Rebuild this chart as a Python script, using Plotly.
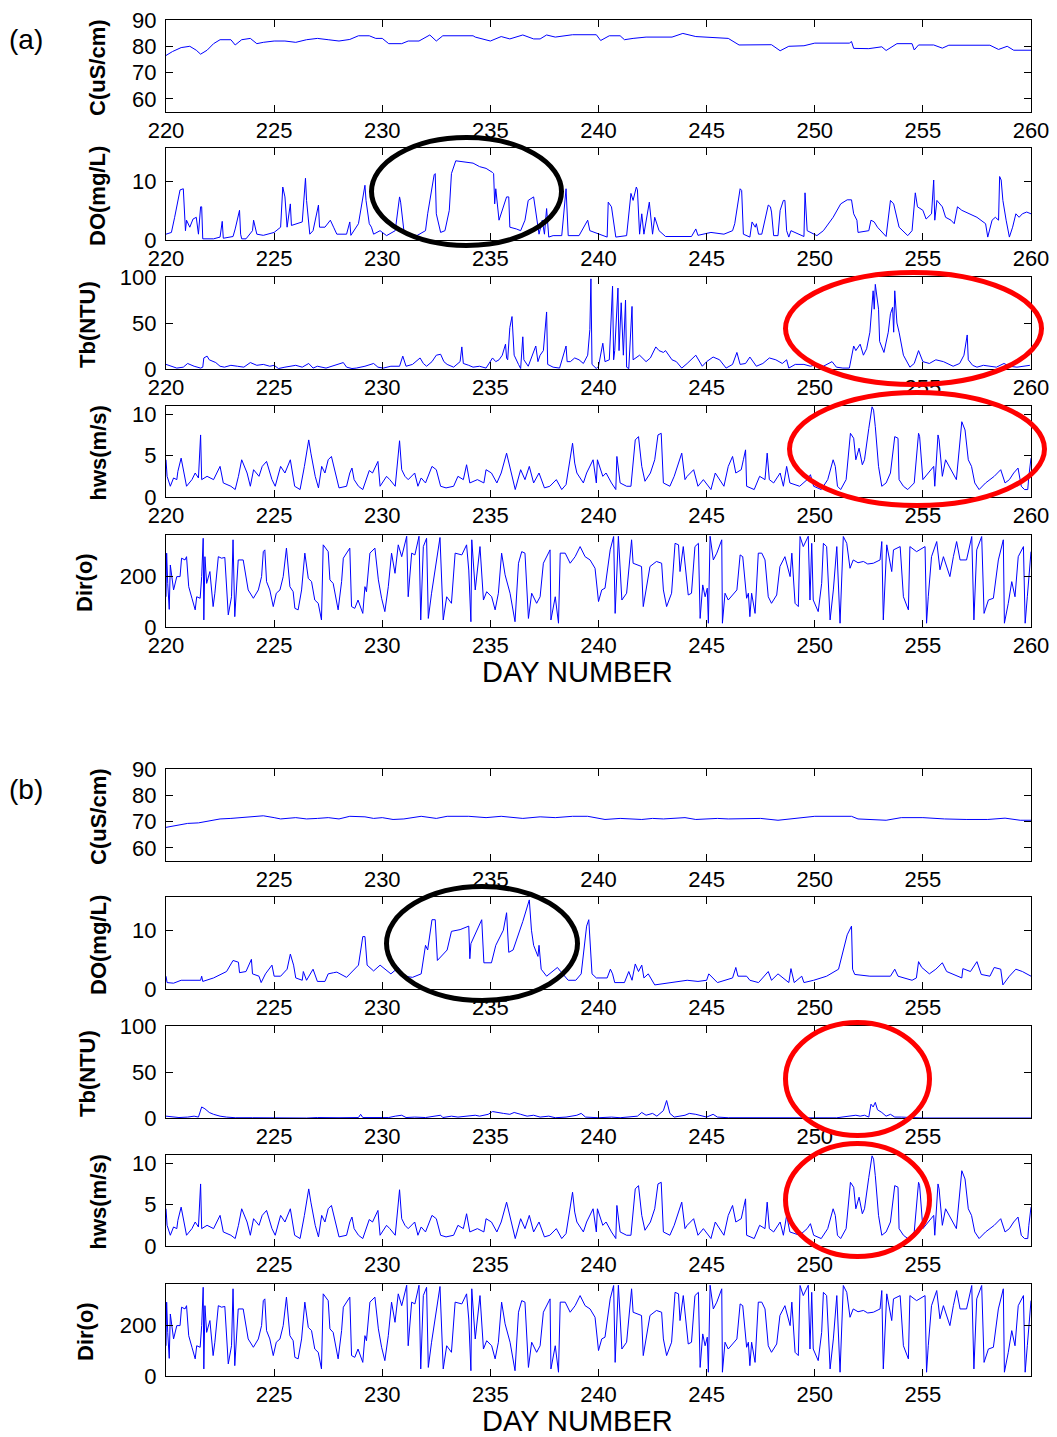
import plotly.graph_objects as go

# ---------------------------------------------------------------------------
# Data (day number, value)
# ---------------------------------------------------------------------------

# Conductivity, station (a)
c_a_day = [220.0, 220.3, 220.7, 221.1, 221.4, 221.6, 221.9, 222.2, 222.5, 223.0, 223.2, 223.5,
           223.9, 224.2, 224.5, 225.0, 225.5, 226.0, 226.5, 227.0, 227.5, 228.0, 228.5, 228.9,
           229.4, 229.7, 230.0, 230.3, 230.9, 231.2, 231.7, 232.2, 232.5, 232.8, 234.2, 234.3,
           235.0, 235.5, 235.9, 236.5, 237.0, 237.3, 237.6, 238.0, 238.8, 239.9, 240.1, 240.5,
           241.0, 241.2, 241.6, 242.2, 243.4, 243.9, 244.5, 245.3, 246.0, 246.5, 247.0, 248.0,
           248.4, 248.8, 249.5, 250.0, 251.6, 251.7, 251.8, 252.5, 253.1, 253.3, 253.8, 254.5,
           254.6, 254.8, 255.5, 255.9, 256.2, 258.1, 258.5, 258.9, 259.2, 260.0]
c_a_val = [76.5, 78.0, 79.5, 80.0, 78.5, 77.0, 78.5, 81.0, 82.5, 82.5, 80.5, 82.5,
           83.0, 81.0, 81.5, 82.0, 82.0, 81.5, 82.5, 83.0, 82.5, 82.0, 82.6, 84.0,
           84.0, 83.0, 83.0, 81.0, 81.0, 82.0, 82.0, 84.3, 82.0, 84.0, 84.0, 83.5,
           82.0, 83.7, 82.8, 84.3, 82.8, 82.8, 84.3, 83.5, 84.4, 84.4, 82.2, 84.0,
           84.0, 82.5, 83.0, 83.5, 83.5, 84.9, 83.7, 83.2, 83.0, 80.5, 80.6, 80.6,
           78.3, 80.0, 80.2, 81.2, 81.2, 81.8, 79.2, 79.1, 79.8, 78.4, 81.0, 81.0,
           78.6, 80.5, 80.5, 79.3, 80.4, 80.4, 78.8, 80.0, 78.5, 78.5]

# Conductivity, station (b)
c_b_day = [220.0, 220.5, 221.0, 221.5, 222.0, 222.5, 223.0, 223.5, 224.0, 224.5, 225.0, 225.3,
           226.0, 226.5, 227.0, 227.5, 228.0, 228.5, 229.2, 229.6, 230.0, 230.5, 231.0, 231.8,
           232.5, 233.0, 234.0, 234.8, 235.5, 236.5, 237.3, 238.0, 238.8, 239.5, 240.3, 241.0,
           242.0, 242.5, 243.0, 244.0, 244.5, 245.5, 246.0, 247.5, 248.3, 249.0, 250.0, 251.7,
           252.0, 253.3, 254.0, 255.0, 256.0, 257.0, 258.0, 258.8, 259.5, 260.0]
c_b_val = [67.8, 68.5, 69.3, 69.5, 70.2, 71.0, 71.2, 71.5, 72.0, 72.2, 71.5, 71.0,
           71.5, 71.0, 71.2, 71.5, 71.0, 72.0, 71.8, 71.2, 71.5, 70.8, 71.0, 72.0,
           71.2, 72.0, 72.0, 71.5, 72.0, 71.2, 71.8, 71.5, 72.0, 72.0, 70.8, 71.2,
           70.8, 71.2, 71.0, 71.5, 70.8, 71.2, 71.0, 71.2, 70.5, 71.0, 72.0, 72.0,
           71.0, 70.5, 71.5, 71.5, 71.0, 70.8, 70.8, 71.3, 70.5, 70.5]

# Dissolved oxygen, station (a)
do_a_day = [220.0, 220.25, 220.4, 220.55, 220.65, 220.8, 220.9, 220.95, 221.1, 221.25, 221.4, 221.5,
            221.6, 221.65, 221.7, 222.2, 222.5, 222.6, 222.65, 223.1, 223.2, 223.4, 223.45, 223.5,
            223.7, 224.0, 224.05, 224.2, 224.5, 225.0, 225.3, 225.4, 225.5, 225.6, 225.75, 225.8,
            226.3, 226.45, 226.5, 226.65, 226.8, 227.05, 227.1, 227.35, 227.6, 227.75, 227.9, 228.35,
            228.5, 228.55, 228.9, 229.2, 229.25, 229.4, 229.5, 229.6, 229.9, 230.2, 230.6, 230.8,
            230.85, 231.0, 231.3, 231.6, 232.0, 232.1, 232.4, 232.45, 232.5, 232.7, 232.9, 233.1,
            233.2, 233.4, 233.8, 234.2, 234.5, 234.8, 235.1, 235.15, 235.2, 235.25, 235.4, 235.6,
            235.75, 235.85, 235.9, 236.2, 236.4, 236.6, 236.75, 237.0, 237.1, 237.25, 237.4, 237.5,
            237.6, 237.7, 237.9, 238.3, 238.5, 238.6, 239.1, 239.5, 239.6, 240.0, 240.4, 240.45,
            240.6, 240.8, 241.3, 241.5, 241.6, 241.75, 241.8, 241.9, 242.0, 242.1, 242.35, 242.5,
            242.6, 242.8, 243.1, 244.3, 244.5, 244.6, 245.2, 245.8, 246.2, 246.3, 246.5, 246.55,
            246.62, 246.7, 247.0, 247.1, 247.25, 247.3, 247.4, 247.55, 247.85, 247.95, 248.0, 248.1,
            248.3, 248.4, 248.55, 248.62, 248.7, 248.8, 248.9, 249.5, 249.55, 249.65, 250.1, 250.4,
            250.85, 251.2, 251.5, 251.7, 251.8, 251.95, 252.0, 252.5, 252.6, 252.75, 252.9, 253.2,
            253.3, 253.5, 253.65, 253.9, 254.3, 254.5, 254.65, 254.75, 255.0, 255.15, 255.4, 255.5,
            255.55, 255.65, 255.9, 256.05, 256.3, 256.45, 256.6, 256.8, 257.5, 257.9, 258.0, 258.2,
            258.35, 258.5, 258.55, 258.62, 258.7, 258.85, 259.0, 259.15, 259.3, 259.45, 259.6, 259.8,
            260.0]
do_a_val = [1.0, 1.3, 3.9, 6.5, 8.6, 8.8, 1.6, 3.4, 2.2, 3.6, 3.9, 1.0,
            5.7, 5.7, 0.2, 0.2, 0.5, 3.2, 0.3, 0.6, 1.9, 5.1, 1.0, 0.2,
            0.2, 1.6, 3.4, 1.0, 0.8, 1.3, 2.2, 9.1, 7.4, 2.2, 6.2, 2.5,
            3.1, 10.6, 6.8, 1.0, 1.6, 6.0, 2.2, 2.2, 3.4, 2.2, 1.0, 1.0,
            3.1, 0.8, 2.8, 9.4, 6.8, 2.8, 2.2, 1.0, 1.6, 0.75, 1.6, 7.4,
            6.5, 1.6, 1.0, 0.75, 1.6, 4.5, 11.2, 11.4, 4.5, 1.3, 1.6, 5.1,
            11.4, 13.6, 13.4, 13.2, 12.6, 12.3, 11.6, 11.4, 6.2, 8.8, 3.4, 5.7,
            7.4, 7.4, 2.2, 1.9, 1.6, 3.4, 6.8, 7.4, 5.1, 1.0, 3.4, 1.0,
            5.4, 0.5, 0.75, 0.75, 8.8, 0.75, 0.75, 3.4, 1.6, 1.0, 0.5, 6.5,
            5.7, 0.5, 0.75, 8.0, 6.8, 9.1, 8.6, 1.0, 4.5, 1.0, 6.5, 1.0,
            3.9, 1.6, 0.6, 0.6, 1.9, 0.8, 1.3, 1.0, 1.6, 2.8, 7.7, 8.8,
            8.5, 1.0, 0.5, 3.1, 2.2, 2.8, 1.0, 1.0, 6.0, 5.7, 4.8, 0.75,
            0.75, 5.1, 6.8, 6.8, 1.6, 0.5, 1.6, 0.6, 8.1, 1.6, 0.75, 1.6,
            3.9, 6.2, 6.9, 6.9, 4.5, 3.4, 1.3, 1.6, 3.4, 3.1, 2.2, 1.0,
            0.6, 6.8, 6.2, 2.2, 0.75, 1.6, 8.1, 5.7, 5.1, 3.6, 4.5, 10.3,
            3.4, 6.8, 5.7, 3.9, 3.4, 2.8, 5.7, 5.1, 3.9, 2.8, 0.5, 3.4,
            3.9, 3.4, 10.9, 10.3, 6.8, 3.4, 0.5, 2.2, 4.5, 3.9, 4.5, 4.8,
            4.5]

# Dissolved oxygen, station (b)
do_b_day = [220.0, 220.05, 220.35, 220.7, 221.6, 221.65, 221.7, 222.2, 222.8, 223.1, 223.35, 223.4,
            223.7, 223.95, 224.0, 224.3, 224.4, 224.6, 224.9, 225.0, 225.3, 225.6, 225.75, 225.9,
            226.0, 226.3, 226.35, 226.5, 226.8, 227.0, 227.35, 227.5, 227.75, 227.9, 228.35, 228.9,
            229.1, 229.2, 229.3, 229.6, 229.9, 230.4, 230.75, 231.0, 231.4, 231.8, 232.0, 232.1,
            232.3, 232.45, 232.55, 233.0, 233.2, 233.6, 234.0, 234.05, 234.1, 234.6, 234.7, 235.05,
            235.25, 235.6, 235.75, 235.85, 236.05, 236.5, 236.8, 236.9, 237.0, 237.2, 237.25, 237.35,
            237.6, 238.1, 238.25, 238.6, 238.95, 239.2, 239.45, 239.55, 239.7, 239.9, 240.4, 240.55,
            240.65, 240.75, 241.2, 241.4, 241.55, 241.7, 241.85, 242.0, 242.1, 242.3, 242.6, 243.4,
            244.1, 244.6, 245.0, 245.1, 245.3, 245.5, 246.2, 246.35, 246.45, 246.85, 247.0, 247.4,
            247.85, 248.0, 248.3, 248.7, 248.8, 248.9, 249.05, 249.4, 249.5, 249.95, 250.55, 251.1,
            251.3, 251.5, 251.7, 251.75, 251.85, 252.55, 253.5, 253.7, 253.85, 254.5, 254.7, 254.8,
            254.95, 255.3, 255.6, 255.9, 256.1, 256.8, 256.85, 257.2, 257.5, 257.7, 258.1, 258.3,
            258.6, 258.7, 259.0, 259.3, 259.6, 260.0]
do_b_val = [2.2, 1.1, 1.0, 1.5, 1.5, 2.2, 1.3, 1.9, 3.0, 4.9, 4.6, 2.8,
            3.0, 5.1, 2.6, 2.2, 1.1, 2.6, 4.1, 2.2, 2.2, 3.4, 6.0, 4.1,
            1.9, 1.5, 3.0, 1.5, 3.4, 1.3, 1.3, 2.6, 2.8, 2.9, 2.0, 4.1,
            9.0, 9.0, 4.1, 3.1, 4.1, 2.6, 3.7, 2.2, 2.0, 2.6, 7.5, 6.7,
            11.9, 11.9, 4.9, 6.7, 9.9, 10.2, 10.8, 5.2, 7.8, 11.9, 4.5, 4.5,
            7.5, 10.1, 13.1, 6.3, 6.7, 11.6, 15.3, 10.1, 7.5, 5.6, 7.5, 3.4,
            2.2, 3.7, 3.0, 1.5, 1.5, 2.6, 10.8, 11.9, 2.6, 1.9, 1.9, 3.4,
            2.6, 1.1, 1.1, 3.0, 1.5, 4.3, 3.0, 4.1, 1.9, 2.6, 0.7, 1.1,
            1.5, 1.3, 1.5, 2.6, 1.9, 1.1, 1.9, 3.7, 2.2, 2.2, 1.5, 1.1,
            3.0, 1.5, 2.6, 1.5, 1.1, 3.5, 1.1, 2.2, 1.1, 1.5, 2.2, 3.4,
            6.3, 9.3, 10.8, 3.4, 2.5, 2.2, 2.2, 3.4, 2.2, 1.5, 1.9, 4.7,
            3.7, 2.6, 3.4, 4.5, 3.0, 1.9, 3.5, 3.0, 4.7, 2.5, 2.2, 3.7,
            3.4, 0.7, 2.2, 3.4, 3.0, 2.2]

# Turbidity, station (a)
tb_a_day = [220.0, 220.3, 220.5, 220.8, 221.0, 221.3, 221.6, 221.7, 221.75, 221.9, 222.0, 222.3,
            222.5, 222.7, 223.0, 223.3, 223.6, 223.9, 224.2, 224.5, 224.8, 225.0, 225.2, 225.5,
            225.8, 226.0, 226.3, 226.6, 226.8, 227.0, 227.4, 227.7, 228.0, 228.2, 228.35, 228.6,
            228.8, 229.2, 229.6, 229.8, 230.05, 230.4, 230.8, 230.95, 231.1, 231.4, 231.75, 231.9,
            232.05, 232.3, 232.5, 232.7, 232.85, 233.0, 233.3, 233.6, 233.68, 233.75, 234.0, 234.2,
            234.5, 234.8, 235.1, 235.25, 235.4, 235.55, 235.7, 235.75, 235.8, 235.9, 236.0, 236.05,
            236.1, 236.3, 236.4, 236.5, 236.55, 236.75, 236.9, 237.1, 237.2, 237.3, 237.45, 237.6,
            237.65, 237.9, 238.2, 238.5, 238.55, 238.7, 238.9, 239.1, 239.3, 239.5, 239.6, 239.65,
            239.7, 239.9, 240.0, 240.2, 240.3, 240.5, 240.65, 240.7, 240.75, 240.9, 240.95, 241.05,
            241.15, 241.25, 241.3, 241.4, 241.55, 241.6, 241.9, 242.2, 242.4, 242.65, 242.8, 243.0,
            243.1, 243.4, 243.6, 243.85, 244.1, 244.3, 244.5, 244.8, 245.0, 245.3, 245.6, 245.9,
            246.2, 246.4, 246.55, 246.8, 247.0, 247.3, 247.6, 247.9, 248.2, 248.5, 248.7, 248.8,
            249.1, 249.5, 249.8, 250.1, 250.4, 250.8, 251.0, 251.3, 251.6, 251.8, 251.9, 252.1,
            252.25, 252.4, 252.55, 252.7, 252.75, 252.8, 252.95, 253.0, 253.2, 253.4, 253.5, 253.6,
            253.65, 253.7, 253.8, 253.9, 254.1, 254.4, 254.6, 254.8, 255.0, 255.3, 255.6, 255.95,
            256.2, 256.4, 256.7, 256.9, 257.05, 257.1, 257.3, 257.5, 257.8, 258.1, 258.4, 258.75,
            259.0, 259.35, 259.7, 259.95]
tb_a_val = [5, 3, 1, 2, 6, 3, 1, 2, 12, 14, 10, 7,
            3, 2, 4, 3, 2, 7, 4, 5, 3, 4, 0.5, 2,
            3, 4, 2, 6, 1, 3, 1, 3, 5, 7, 2, 0.5,
            1, 3, 6, 2, 1, 3, 3, 14, 3, 5, 12, 6,
            3, 8, 15, 16, 8, 5, 2, 8, 24, 6, 4, 2,
            3, 1, 12, 8, 10, 15, 27, 12, 10, 45, 57, 25,
            15, 5, 0.5, 35, 10, 3, 12, 25, 8, 15, 20, 62,
            5, 2, 1, 25, 8, 8, 12, 10, 6, 15, 43, 98,
            5, 0.5, 3, 28, 8, 10, 90, 10, 20, 88, 20, 72,
            15, 75, 2, 0.5, 68, 10, 15, 8, 12, 24, 20, 18,
            20, 10, 8, 1, 6, 10, 15, 3, 8, 13, 10, 1,
            5, 18, 5, 6, 13, 3, 6, 12, 10, 6, 10, 1,
            5, 5, 3, 5, 3, 8, 2, 1, 1, 25, 20, 27,
            15, 22, 40, 85, 65, 92, 65, 30, 18, 40, 60, 67,
            40, 85, 50, 40, 15, 2, 6, 20, 8, 6, 10, 8,
            5, 3, 6, 15, 37, 10, 4, 2, 4, 3, 2, 6,
            3, 2, 3, 4]

# Turbidity, station (b)
tb_b_day = [220.0, 220.3, 220.6, 221.0, 221.3, 221.5, 221.65, 221.8, 222.0, 222.2, 222.5, 222.8,
            223.2, 224.0, 225.0, 226.0, 226.5, 227.0, 227.5, 228.0, 228.9, 229.0, 229.1, 229.7,
            230.0, 230.3, 230.6, 230.9, 231.1, 231.5, 232.0, 232.7, 232.8, 233.2, 233.5, 234.0,
            234.3, 234.5, 234.9, 235.1, 235.3, 235.6, 235.9, 236.1, 236.4, 236.7, 237.0, 237.3,
            237.7, 238.0, 238.5, 239.0, 239.2, 239.4, 240.0, 240.6, 241.0, 241.5, 241.8, 242.0,
            242.2, 242.5, 242.7, 243.0, 243.15, 243.3, 243.5, 244.0, 244.2, 244.5, 244.8, 245.0,
            245.3, 245.5, 246.0, 247.0, 248.0, 249.0, 250.0, 251.0, 251.9, 252.1, 252.3, 252.5,
            252.6, 252.7, 252.8, 252.9, 253.1, 253.3, 253.5, 253.7, 254.0, 254.5, 255.0, 260.0]
tb_b_val = [2, 1, 0.5, 1, 2, 1, 12, 10, 6, 4, 2, 1,
            0.3, 0.3, 0, 0.5, 0, 0.5, 0, 0.3, 0.5, 4, 0.5, 0.3,
            1, 0.5, 2, 3, 0.5, 1, 0.5, 3, 0.5, 2, 1, 2,
            3, 2, 4, 7, 6, 5, 4, 6, 4, 2, 3, 1,
            2, 0.3, 1, 3, 5, 1, 0.3, 1, 0.3, 1, 2, 6,
            3, 5, 2, 8, 19, 5, 1, 3, 5, 4, 2, 1,
            4, 1, 0.3, 0.3, 1, 0.3, 0.2, 0.2, 3, 2, 3, 1,
            15, 12, 17, 9, 6, 2, 4, 1, 1, 0.2, 0, 0]

# Hourly wind speed (same meteorological record for both stations)
hws_day = [220.0, 220.05, 220.2, 220.35, 220.5, 220.55, 220.7, 220.85, 220.95, 221.2, 221.35, 221.5,
           221.6, 221.65, 221.9, 222.2, 222.5, 222.65, 223.0, 223.2, 223.35, 223.5, 223.75, 223.9,
           224.05, 224.3, 224.45, 224.65, 224.9, 225.05, 225.3, 225.5, 225.75, 225.95, 226.2, 226.4,
           226.6, 226.7, 226.9, 227.05, 227.2, 227.35, 227.5, 227.65, 227.8, 228.0, 228.35, 228.5,
           228.6, 228.7, 228.9, 229.1, 229.4, 229.55, 229.8, 229.9, 230.2, 230.35, 230.6, 230.8,
           230.9, 231.05, 231.2, 231.5, 231.65, 231.8, 232.0, 232.3, 232.5, 232.7, 232.95, 233.3,
           233.5, 233.75, 233.9, 234.05, 234.4, 234.7, 234.8, 235.05, 235.3, 235.5, 235.75, 235.9,
           236.15, 236.4, 236.6, 236.8, 237.0, 237.25, 237.5, 237.75, 238.05, 238.3, 238.5, 238.8,
           238.9, 239.0, 239.3, 239.45, 239.75, 239.9, 239.95, 240.2, 240.35, 240.6, 240.8, 240.85,
           241.0, 241.3, 241.5, 241.7, 241.85, 242.0, 242.15, 242.4, 242.6, 242.75, 242.9, 243.0,
           243.3, 243.5, 243.85, 244.0, 244.1, 244.4, 244.6, 244.85, 245.2, 245.4, 245.6, 245.8,
           246.0, 246.2, 246.35, 246.6, 246.7, 246.8, 246.85, 247.2, 247.45, 247.7, 247.8, 247.9,
           248.1, 248.4, 248.55, 248.7, 248.85, 249.3, 249.65, 249.8, 249.95, 250.3, 250.6, 250.85,
           250.95, 251.05, 251.2, 251.45, 251.65, 251.8, 251.9, 252.05, 252.2, 252.3, 252.5, 252.65,
           252.72, 252.8, 252.95, 253.1, 253.3, 253.5, 253.7, 253.85, 253.9, 254.1, 254.3, 254.6,
           254.8, 254.85, 255.0, 255.25, 255.5, 255.55, 255.7, 255.75, 255.9, 256.05, 256.4, 256.55,
           256.8, 256.95, 257.1, 257.25, 257.4, 257.6, 257.9, 258.3, 258.6, 258.8, 259.0, 259.2,
           259.4, 259.55, 259.7, 259.85, 259.9, 260.0]
hws_val = [4.5, 2.5, 1.3, 2.3, 2.1, 3.1, 4.7, 2.9, 1.3, 2.1, 2.9, 2.3,
           7.5, 2.1, 2.5, 2.1, 3.7, 1.7, 1.3, 0.9, 2.5, 4.5, 2.9, 1.3,
           3.3, 2.5, 3.7, 4.3, 2.1, 1.3, 3.7, 2.9, 4.5, 1.3, 0.9, 3.7,
           6.9, 5.3, 2.5, 1.1, 3.7, 2.9, 4.5, 4.9, 3.3, 1.1, 1.3, 2.9,
           3.5, 2.1, 1.3, 0.9, 3.2, 2.9, 4.3, 1.3, 2.5, 2.1, 1.3, 6.8,
           3.3, 2.5, 2.1, 2.9, 1.3, 2.3, 1.7, 3.7, 3.3, 1.3, 1.1, 1.3,
           2.5, 2.1, 3.9, 1.7, 2.1, 1.7, 3.3, 2.9, 1.7, 2.9, 5.3, 3.7,
           0.9, 3.3, 2.1, 3.7, 1.7, 2.9, 1.1, 1.3, 2.1, 0.9, 1.5, 6.5,
           4.1, 2.9, 1.7, 2.9, 4.5, 1.7, 4.5, 2.5, 2.9, 1.7, 0.9, 4.9,
           1.7, 1.3, 1.3, 6.9, 7.3, 3.7, 1.9, 2.9, 4.5, 7.5, 7.7, 1.7,
           1.3, 2.5, 5.3, 2.1, 2.5, 3.3, 1.3, 2.1, 0.9, 2.9, 2.1, 1.3,
           3.7, 4.9, 2.9, 3.3, 4.5, 5.7, 1.3, 0.9, 2.5, 2.1, 5.3, 2.1,
           1.7, 2.9, 1.3, 3.7, 1.7, 1.3, 2.1, 2.7, 1.3, 0.9, 2.1, 4.5,
           3.7, 1.3, 0.9, 2.1, 7.7, 7.1, 4.5, 5.9, 3.9, 4.5, 8.3, 10.9,
           10.5, 8.5, 3.7, 1.3, 1.7, 2.9, 7.3, 7.1, 2.1, 1.3, 0.9, 1.7,
           7.7, 7.3, 2.1, 2.9, 3.7, 1.3, 7.5, 6.9, 2.5, 4.5, 2.9, 2.1,
           9.1, 8.1, 4.5, 3.7, 1.7, 0.9, 1.7, 2.5, 3.3, 1.7, 2.1, 2.9,
           3.5, 1.3, 0.9, 0.9, 2.5, 4.7]

# Wind direction (same meteorological record for both stations)
dir_day = [220.0, 220.03, 220.08, 220.15, 220.2, 220.35, 220.5, 220.65, 220.72, 220.88, 220.95, 221.05,
           221.2, 221.35, 221.42, 221.58, 221.65, 221.72, 221.75, 221.8, 221.88, 222.03, 222.18, 222.26,
           222.42, 222.57, 222.72, 222.88, 223.03, 223.1, 223.18, 223.26, 223.34, 223.57, 223.8, 224.04,
           224.27, 224.42, 224.5, 224.57, 224.65, 224.8, 224.96, 225.1, 225.27, 225.42, 225.57, 225.73,
           225.88, 225.96, 226.11, 226.27, 226.42, 226.58, 226.73, 226.88, 227.04, 227.19, 227.27, 227.5,
           227.58, 227.73, 227.96, 228.12, 228.2, 228.5, 228.58, 228.73, 228.88, 229.1, 229.2, 229.27,
           229.43, 229.66, 229.82, 229.97, 230.12, 230.28, 230.43, 230.59, 230.74, 230.9, 231.13, 231.2,
           231.36, 231.51, 231.7, 231.78, 231.9, 232.05, 232.13, 232.28, 232.52, 232.67, 232.82, 232.98,
           233.2, 233.37, 233.68, 233.9, 234.0, 234.1, 234.14, 234.3, 234.52, 234.68, 234.83, 235.06,
           235.22, 235.37, 235.52, 235.68, 235.91, 236.14, 236.3, 236.45, 236.6, 236.76, 236.91, 237.14,
           237.3, 237.45, 237.76, 237.8, 238.0, 238.15, 238.23, 238.46, 238.69, 238.92, 239.15, 239.38,
           239.61, 239.84, 240.0, 240.15, 240.3, 240.54, 240.7, 240.77, 240.92, 241.08, 241.3, 241.53,
           241.6, 241.99, 242.07, 242.38, 242.68, 242.92, 243.0, 243.15, 243.38, 243.54, 243.7, 243.77,
           243.92, 244.15, 244.3, 244.46, 244.62, 244.7, 244.82, 244.93, 245.03, 245.08, 245.16, 245.31,
           245.47, 245.7, 245.73, 245.85, 246.0, 246.4, 246.55, 246.67, 246.85, 246.93, 247.0, 247.08,
           247.24, 247.39, 247.55, 247.7, 247.85, 248.0, 248.24, 248.39, 248.62, 248.86, 248.94, 249.09,
           249.24, 249.32, 249.47, 249.7, 249.78, 249.86, 249.93, 250.16, 250.32, 250.4, 250.55, 250.71,
           250.86, 251.02, 251.17, 251.32, 251.48, 251.63, 251.78, 252.0, 252.25, 252.45, 252.71, 253.02,
           253.1, 253.17, 253.33, 253.56, 253.64, 253.95, 254.1, 254.33, 254.4, 254.71, 255.1, 255.17,
           255.25, 255.4, 255.64, 255.79, 255.95, 256.25, 256.41, 256.56, 256.72, 257.02, 257.26, 257.36,
           257.49, 257.72, 257.83, 258.03, 258.26, 258.49, 258.72, 258.77, 258.95, 259.11, 259.26, 259.41,
           259.65, 259.73, 259.83, 259.96, 260.0]
dir_val = [120, 293, 173, 70, 246, 147, 200, 200, 273, 266, 279, 160,
           114, 68, 120, 114, 200, 352, 28, 279, 173, 220, 81, 134,
           279, 273, 276, 48, 120, 346, 41, 173, 266, 266, 147, 114,
           147, 200, 299, 306, 180, 147, 81, 134, 147, 200, 313, 160,
           140, 74, 68, 147, 293, 193, 180, 107, 94, 28, 326, 299,
           187, 173, 68, 180, 273, 313, 81, 74, 107, 54, 160, 140,
           293, 313, 187, 114, 61, 160, 293, 213, 326, 279, 360, 120,
           293, 286, 360, 28, 319, 352, 34, 134, 279, 355, 28, 120,
           94, 293, 286, 326, 226, 21, 346, 147, 319, 107, 140, 120,
           68, 134, 293, 207, 134, 21, 253, 299, 293, 34, 134, 94,
           120, 253, 306, 28, 120, 15, 293, 293, 253, 279, 319, 279,
           266, 233, 101, 147, 154, 306, 359, 54, 360, 107, 134, 346,
           253, 240, 81, 240, 260, 253, 147, 81, 134, 332, 326, 220,
           319, 127, 134, 319, 332, 34, 167, 120, 154, 15, 360, 266,
           293, 346, 15, 134, 107, 147, 286, 279, 114, 134, 41, 134,
           54, 293, 293, 266, 120, 94, 127, 240, 279, 200, 293, 94,
           81, 359, 319, 360, 107, 332, 107, 61, 173, 332, 319, 28,
           147, 319, 15, 359, 332, 233, 266, 255, 260, 250, 253, 266,
           339, 28, 326, 220, 306, 319, 120, 68, 319, 299, 319, 15,
           120, 279, 339, 227, 279, 200, 279, 339, 266, 266, 359, 28,
           306, 359, 54, 107, 114, 266, 346, 15, 94, 180, 120, 279,
           319, 15, 120, 279, 299]

# ---------------------------------------------------------------------------
# Layout geometry (pixels in a 1057 x 1437 page)
# ---------------------------------------------------------------------------
W, H = 1057, 1437
X_LEFT, X_RIGHT = 166, 1031
TOPS_A = [20, 148, 277, 406, 535]
BOTS_A = [112, 240, 369, 497, 627]
SHIFT_B = 749

FONT = "Liberation Sans, Arial, Helvetica, sans-serif"
BLUE = "#0000ff"


def px_x(x):
    return x / W


def px_y(y):
    return 1 - y / H


# per row: range, tick values, label, label x-centre (px)
rows = [
    dict(rng=[55, 90], ticks=[60, 70, 80, 90], label="C(uS/cm)", lx=98),
    dict(rng=[0, 15.8], ticks=[0, 10], label="DO(mg/L)", lx=98),
    dict(rng=[0, 100], ticks=[0, 50, 100], label="Tb(NTU)", lx=87),
    dict(rng=[0, 11], ticks=[0, 5, 10], label="hws(m/s)", lx=98),
    dict(rng=[0, 365], ticks=[0, 200], label="Dir(o)", lx=85),
]

series_a = [(c_a_day, c_a_val), (do_a_day, do_a_val), (tb_a_day, tb_a_val),
            (hws_day, hws_val), (dir_day, dir_val)]
series_b = [(c_b_day, c_b_val), (do_b_day, do_b_val), (tb_b_day, tb_b_val),
            (hws_day, hws_val), (dir_day, dir_val)]

xticks_a = [220, 225, 230, 235, 240, 245, 250, 255, 260]
xticks_b = [225, 230, 235, 240, 245, 250, 255]

fig = go.Figure()
layout_axes = {}
annotations = []

axis_common = dict(
    showline=True, linecolor="#000000", linewidth=1.2, mirror="ticks",
    ticks="inside", ticklen=7, tickwidth=1, tickcolor="#000000",
    showgrid=False, zeroline=False, automargin=False,
    tickfont=dict(family=FONT, size=22, color="#000000"),
)

idx = 0
for panel, (series, shift, xticks) in enumerate(
        [(series_a, 0, xticks_a), (series_b, SHIFT_B, xticks_b)]):
    for r, row in enumerate(rows):
        idx += 1
        top = TOPS_A[r] + shift
        bot = BOTS_A[r] + shift
        days, vals = series[r]
        fig.add_trace(go.Scatter(
            x=days, y=vals, mode="lines",
            line=dict(color=BLUE, width=1),
            xaxis=f"x{idx}", yaxis=f"y{idx}",
            showlegend=False, hoverinfo="skip",
        ))
        layout_axes[f"xaxis{idx}"] = dict(
            domain=[px_x(X_LEFT), px_x(X_RIGHT)], anchor=f"y{idx}",
            range=[220, 260], tickmode="array", tickvals=xticks,
            ticktext=[str(t) for t in xticks], ticklabelstandoff=-2, **axis_common)
        layout_axes[f"yaxis{idx}"] = dict(
            domain=[px_y(bot), px_y(top)], anchor=f"x{idx}",
            range=row["rng"], tickmode="array", tickvals=row["ticks"],
            ticktext=[str(t) for t in row["ticks"]], ticklabelstandoff=4, **axis_common)
        annotations.append(dict(
            text=f"<b>{row['label']}</b>", textangle=-90,
            x=px_x(row["lx"]), y=px_y((top + bot) / 2 + 2),
            xref="paper", yref="paper", xanchor="center", yanchor="middle",
            showarrow=False, font=dict(family=FONT, size=22, color="#000000")))
    annotations.append(dict(
        text="DAY NUMBER", x=px_x(577), y=px_y(672 + shift),
        xref="paper", yref="paper", xanchor="center", yanchor="middle",
        showarrow=False, borderpad=0,
        font=dict(family=FONT, size=29, color="#000000")))
    annotations.append(dict(
        text="(a)" if panel == 0 else "(b)", x=px_x(26), y=px_y(40 + shift),
        xref="paper", yref="paper", xanchor="center", yanchor="middle",
        showarrow=False, font=dict(family=FONT, size=28, color="#000000")))

# highlight ellipses (pixel bounding boxes of the outer stroke)
ellipses = [
    (369, 135, 564, 248, "#000000"),
    (783, 270, 1044, 387, "#ff0000"),
    (787, 390, 1047, 508, "#ff0000"),
    (384, 884, 580, 1003, "#000000"),
    (783, 1020, 932, 1138, "#ff0000"),
    (783, 1141, 932, 1259, "#ff0000"),
]
shapes = []
for x0, y0, x1, y1, col in ellipses:
    shapes.append(dict(
        type="circle", xref="paper", yref="paper", layer="above",
        x0=px_x(x0 + 2.5), x1=px_x(x1 - 2.5),
        y0=px_y(y1 - 2.5), y1=px_y(y0 + 2.5),
        line=dict(color=col, width=5)))

fig.update_layout(
    width=W, height=H, margin=dict(l=0, r=0, t=0, b=0),
    paper_bgcolor="white", plot_bgcolor="white",
    annotations=annotations, shapes=shapes,
    font=dict(family=FONT, color="#000000"),
    **layout_axes,
)

fig.write_html("out.html")
